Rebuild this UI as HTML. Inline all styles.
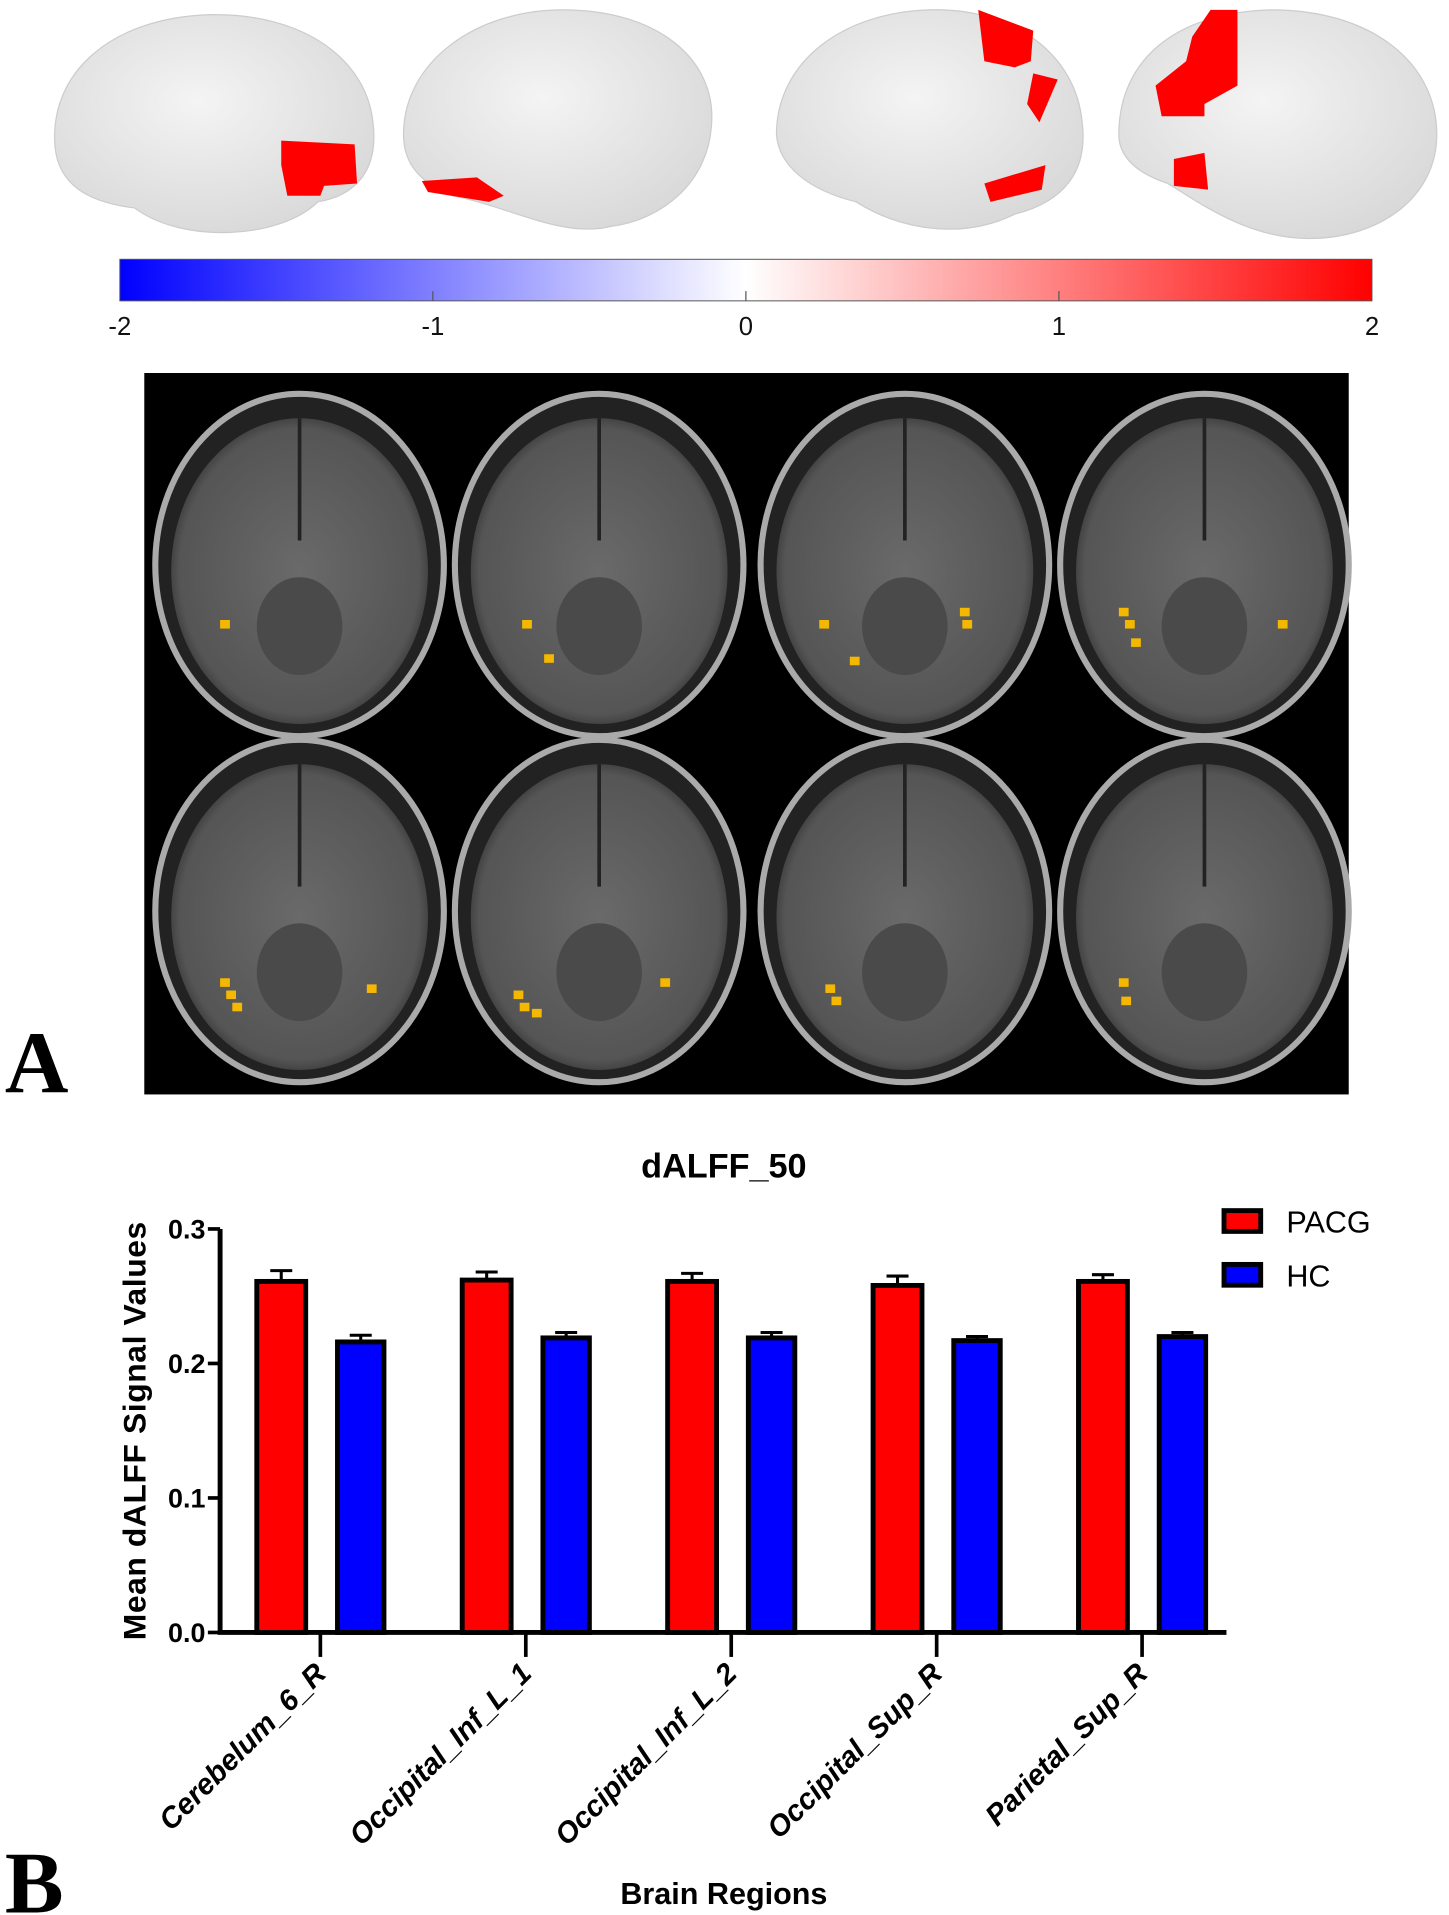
<!DOCTYPE html>
<html><head><meta charset="utf-8"><style>html,body{margin:0;padding:0;background:#fff}svg{display:block}</style></head>
<body>
<svg id="fig" width="1449" height="1915" viewBox="0 0 1185 1566" xmlns="http://www.w3.org/2000/svg" font-family="Liberation Sans, sans-serif">
<defs>
<linearGradient id="cb" x1="0" x2="1" y1="0" y2="0"><stop offset="0" stop-color="#0000ff"/><stop offset="0.5" stop-color="#ffffff"/><stop offset="1" stop-color="#ff0000"/></linearGradient>
<radialGradient id="br" cx="0.45" cy="0.4" r="0.7"><stop offset="0" stop-color="#f4f4f4"/><stop offset="1" stop-color="#d6d6d6"/></radialGradient>
<radialGradient id="mri" cx="0.5" cy="0.5" r="0.55"><stop offset="0" stop-color="#6a6a6a"/><stop offset="0.85" stop-color="#555"/><stop offset="1" stop-color="#2a2a2a"/></radialGradient>
</defs>
<g>
<path d="M45,120 C40,60 90,15 170,12 C250,10 300,50 305,100 C310,140 290,160 260,165 C230,195 150,200 110,170 C70,165 48,150 45,120Z" fill="url(#br)" stroke="#ccc"/>
<path d="M230,135 L230,115 L290,118 L292,150 L265,152 L262,160 L235,160Z" fill="#f00"/>
<path d="M330,110 C330,50 390,8 460,8 C540,8 585,50 582,100 C580,150 540,180 500,185 C460,195 420,170 370,160 C345,150 330,135 330,110Z" fill="url(#br)" stroke="#ccc"/>
<path d="M345,148 L390,145 L412,160 L400,165 L350,157Z" fill="#f00"/>
<path d="M635,110 C635,50 690,10 760,8 C830,6 880,45 885,100 C890,140 870,165 830,175 C790,195 740,190 700,165 C660,155 637,135 635,110Z" fill="url(#br)" stroke="#ccc"/>
<path d="M800,8 L845,25 L843,50 L830,55 L805,50Z M845,60 L865,65 L850,100 L840,85Z M805,150 L855,135 L852,155 L810,165Z" fill="#f00"/>
<path d="M915,110 C915,50 960,10 1040,8 C1120,8 1175,50 1175,110 C1175,160 1130,195 1070,195 C1020,195 980,165 955,150 C925,140 915,125 915,110Z" fill="url(#br)" stroke="#ccc"/>
<path d="M990,8 L1012,8 L1012,70 L985,85 L985,95 L950,95 L945,70 L970,50 L975,30Z M960,130 L985,125 L988,155 L960,152Z" fill="#f00"/>
</g>
<g>
<rect x="98" y="212" width="1024" height="34" fill="url(#cb)" stroke="#555" stroke-width="0.8"/>
<g font-size="21" text-anchor="middle" fill="#111">
<text x="98" y="274">-2</text>
<text x="354" y="274">-1</text>
<text x="610" y="274">0</text>
<text x="866" y="274">1</text>
<text x="1122" y="274">2</text>
</g>
<g stroke="#555"><line x1="354" y1="238" x2="354" y2="246"/><line x1="610" y1="238" x2="610" y2="246"/><line x1="866" y1="238" x2="866" y2="246"/></g>
</g>
<rect x="118" y="305" width="985" height="590" fill="#000"/>
<g id="slices"></g>
<text x="4" y="893" font-family="Liberation Serif, serif" font-weight="bold" font-size="72">A</text>
<text x="4" y="1564" font-family="Liberation Serif, serif" font-weight="bold" font-size="72">B</text>
<text x="592" y="963" text-anchor="middle" font-weight="bold" font-size="28">dALFF_50</text>
<g id="chart"></g>
<script>
const categories=["Cerebelum_6_R","Occipital_Inf_L_1","Occipital_Inf_L_2","Occipital_Sup_R","Parietal_Sup_R"];
const pacgValues=[0.261,0.262,0.261,0.258,0.261];
const pacgErrors=[0.008,0.006,0.006,0.007,0.005];
const hcValues=[0.216,0.219,0.219,0.217,0.220];
const hcErrors=[0.005,0.004,0.004,0.003,0.003];
const yTicks=[0,0.1,0.2,0.3];
const yTickLabels=["0.0","0.1","0.2","0.3"];
const NS="http://www.w3.org/2000/svg";
function mk(p,t,a){const e=document.createElementNS(NS,t);for(const k in a)e.setAttribute(k,a[k]);p.appendChild(e);return e;}
const sl=document.getElementById('slices');
const cx=[245,490,740,985],cy=[462,745];
const blobs=[[[-65,45]],[[-63,45],[-45,73]],[[-70,45],[-45,75],[45,35],[47,45]],[[-70,35],[-65,45],[-60,60],[60,45]],[[-65,55],[-60,65],[-55,75],[55,60]],[[-70,65],[-65,75],[-55,80],[50,55]],[[-65,60],[-60,70]],[[-70,55],[-68,70]]];
for(let r=0;r<2;r++)for(let c=0;c<4;c++){
 const g=mk(sl,'g',{});
 
 
 const x=cx[c],y=cy[r];
 mk(g,'ellipse',{cx:x,cy:y,rx:118,ry:140,fill:'#222',stroke:'#aaa','stroke-width':5});
 mk(g,'ellipse',{cx:x,cy:y+5,rx:105,ry:125,fill:'url(#mri)'});
 mk(g,'ellipse',{cx:x,cy:y+50,rx:35,ry:40,fill:'#4a4a4a'});
 mk(g,'line',{x1:x,y1:y-120,x2:x,y2:y-20,stroke:'#222','stroke-width':3});
 for(const b of blobs[r*4+c]){const d=mk(g,'rect',{x:x+b[0],y:y+b[1],width:8,height:7,fill:'#f5b800'});
  }
}
const ch=document.getElementById('chart');
const X0=180,X1=1003,Y0=1335,PX=1100;
const y=v=>Y0-v*PX;
const xc=i=>262+i*168;
const ax=mk(ch,'path',{d:`M${X0},${y(0.3)} L${X0},${Y0} L${X1},${Y0}`,fill:'none',stroke:'#000','stroke-width':4});

yTicks.forEach((t,i)=>{mk(ch,'line',{x1:X0-10,x2:X0,y1:y(t),y2:y(t),stroke:'#000','stroke-width':3});
 const tx=mk(ch,'text',{x:X0-12,y:y(t)+8,'text-anchor':'end','font-weight':'bold','font-size':22});tx.textContent=yTickLabels[i];
 });
categories.forEach((c,i)=>{const cxp=xc(i);
 mk(ch,'line',{x1:cxp,x2:cxp,y1:Y0,y2:Y0+20,stroke:'#000','stroke-width':3});
 const eb=(v,e,x)=>{mk(ch,'line',{x1:x,x2:x,y1:y(v),y2:y(v+e),stroke:'#000','stroke-width':2.5});mk(ch,'line',{x1:x-9,x2:x+9,y1:y(v+e),y2:y(v+e),stroke:'#000','stroke-width':2.5});};
 eb(pacgValues[i],pacgErrors[i],cxp-32);eb(hcValues[i],hcErrors[i],cxp+33);
 const r=mk(ch,'rect',{x:cxp-52,y:y(pacgValues[i]),width:40,height:y(0)-y(pacgValues[i]),fill:'#ff0000',stroke:'#000','stroke-width':4});
 
 const b=mk(ch,'rect',{x:cxp+14,y:y(hcValues[i]),width:38,height:y(0)-y(hcValues[i]),fill:'#0000ff',stroke:'#000','stroke-width':4});
 
 const t=mk(ch,'text',{transform:`translate(${cxp+6},1370) rotate(-45)`,'text-anchor':'end','font-weight':'bold','font-style':'italic','font-size':24});t.textContent=c;
 });
const yt=mk(ch,'text',{transform:'translate(119,1170) rotate(-90)','text-anchor':'middle','font-weight':'bold','font-size':26,'letter-spacing':'0.5'});yt.textContent='Mean dALFF  Signal Values';

const xt=mk(ch,'text',{x:592,y:1557,'text-anchor':'middle','font-weight':'bold','font-size':25});xt.textContent='Brain Regions';

[['PACG','#ff0000',999],['HC','#0000ff',1043]].forEach(([n,col,yy])=>{
 const g=mk(ch,'g',{});
 mk(g,'rect',{x:1001,y:yy-9,width:30,height:17,fill:col,stroke:'#000','stroke-width':4});
 const t=mk(g,'text',{x:1052,y:yy+9,'font-size':25});t.textContent=n;});
</script>
</svg>
</body></html>
